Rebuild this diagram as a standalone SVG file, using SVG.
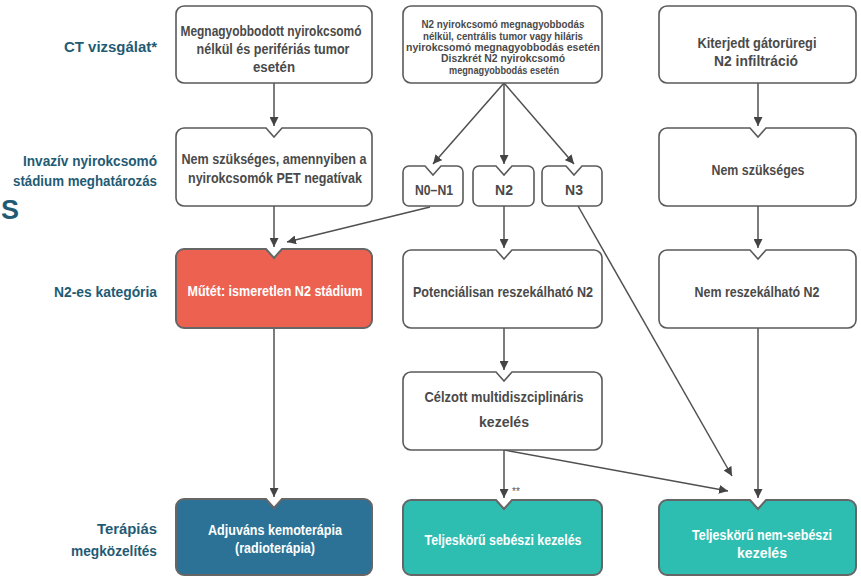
<svg xmlns="http://www.w3.org/2000/svg" width="861" height="577" viewBox="0 0 861 577">
  <defs>
    <marker id="arrow" viewBox="0 0 10 10" refX="10" refY="5" markerWidth="9" markerHeight="9" markerUnits="userSpaceOnUse" orient="auto">
      <path d="M0,0 L10,5 L0,10 Z" fill="#444"/>
    </marker>
  </defs>
  <style>
    .box { fill: #fff; stroke: #5a5a5a; stroke-width: 1.6; }
    .red { fill: #ec6150; stroke: #666; stroke-width: 2; }
    .blue { fill: #2b7296; stroke: #666; stroke-width: 2; }
    .teal { fill: #2ebdb1; stroke: #666; stroke-width: 2; }
    .t { font-family: "Liberation Sans", Arial, sans-serif; font-weight: bold; font-size: 14px; fill: #4a4a4a; text-anchor: middle; }
    .ts { font-size: 11px; }
    .w { fill: #fff; }
    .lbl { font-family: "Liberation Sans", Arial, sans-serif; font-weight: bold; font-size: 14.5px; fill: #1f5b74; text-anchor: end; }
    .conn line { stroke: #505050; stroke-width: 1.5; marker-end: url(#arrow); }
  </style>
  <rect width="861" height="577" fill="#fff"/>

  <!-- row labels -->
  <g id="labels">
    <text class="lbl" x="157" y="52" textLength="93" lengthAdjust="spacingAndGlyphs">CT vizsgálat*</text>
    <text class="lbl" x="157" y="166" textLength="134" lengthAdjust="spacingAndGlyphs">Invazív nyirokcsomó</text>
    <text class="lbl" x="157" y="186" textLength="144" lengthAdjust="spacingAndGlyphs">stádium meghatározás</text>
    <text class="lbl" x="157" y="297" textLength="103" lengthAdjust="spacingAndGlyphs">N2-es kategória</text>
    <text class="lbl" x="157" y="534" textLength="60" lengthAdjust="spacingAndGlyphs">Terápiás</text>
    <text class="lbl" x="157" y="556" textLength="86" lengthAdjust="spacingAndGlyphs">megközelítés</text>
    <text x="1" y="219" font-family="Liberation Sans, Arial, sans-serif" font-weight="bold" font-size="27" fill="#1f5b74">S</text>
  </g>

  <!-- connectors -->
  <g id="connectors" class="conn">
    <line x1="274" y1="83" x2="274" y2="126"/>
    <line x1="274" y1="206" x2="274" y2="247"/>
    <line x1="274" y1="328" x2="274" y2="497"/>
    <line x1="504" y1="83" x2="433" y2="164"/>
    <line x1="504" y1="83" x2="504" y2="164"/>
    <line x1="504" y1="83" x2="574" y2="164"/>
    <line x1="430" y1="207" x2="287" y2="242"/>
    <line x1="504" y1="206" x2="504" y2="248"/>
    <line x1="504" y1="328" x2="504" y2="370"/>
    <line x1="504" y1="450" x2="504" y2="498"/>
    <line x1="504" y1="450" x2="728" y2="491"/>
    <line x1="578" y1="206" x2="732" y2="476"/>
    <line x1="758" y1="83" x2="758" y2="126"/>
    <line x1="758" y1="206" x2="758" y2="248"/>
    <line x1="758" y1="328" x2="758" y2="498"/>
    <text x="512" y="495" font-family="Liberation Sans, Arial, sans-serif" font-size="10" fill="#555">**</text>
  </g>

  <!-- left column -->
  <g id="ct-peripheral">
    <rect class="box" x="176" y="6" width="196" height="77" rx="8"/>
    <text class="t" x="271" y="36" textLength="181" lengthAdjust="spacingAndGlyphs">Megnagyobbodott nyirokcsomó</text>
    <text class="t" x="273" y="54" textLength="153" lengthAdjust="spacingAndGlyphs">nélkül és perifériás tumor</text>
    <text class="t" x="274" y="72" textLength="42" lengthAdjust="spacingAndGlyphs">esetén</text>
  </g>
  <g id="staging-not-needed-pet">
    <path class="box" d="M184,128 H266 L274,137 L282,128 H364 A8,8 0 0 1 372,136 V198 A8,8 0 0 1 364,206 H184 A8,8 0 0 1 176,198 V136 A8,8 0 0 1 184,128 Z"/>
    <text class="t" x="274" y="164" textLength="185" lengthAdjust="spacingAndGlyphs">Nem szükséges, amennyiben a</text>
    <text class="t" x="275" y="183" textLength="174" lengthAdjust="spacingAndGlyphs">nyirokcsomók PET negatívak</text>
  </g>
  <g id="surgery-unknown-n2">
    <path class="red" d="M184,249 H266 L274,258 L282,249 H364 A8,8 0 0 1 372,257 V320 A8,8 0 0 1 364,328 H184 A8,8 0 0 1 176,320 V257 A8,8 0 0 1 184,249 Z"/>
    <text class="t w" x="275" y="296" textLength="175" lengthAdjust="spacingAndGlyphs">Műtét: ismeretlen N2 stádium</text>
  </g>
  <g id="adjuvant-chemo">
    <path class="blue" d="M184,499 H266 L274,508 L282,499 H364 A8,8 0 0 1 372,507 V567 A8,8 0 0 1 364,575 H184 A8,8 0 0 1 176,567 V507 A8,8 0 0 1 184,499 Z"/>
    <text class="t w" x="275" y="535" textLength="134" lengthAdjust="spacingAndGlyphs">Adjuváns kemoterápia</text>
    <text class="t w" x="275" y="553" textLength="80" lengthAdjust="spacingAndGlyphs">(radioterápia)</text>
  </g>

  <!-- middle column -->
  <g id="ct-central">
    <rect class="box" x="403" y="6" width="199" height="77" rx="8"/>
    <text class="t ts" x="503" y="28" textLength="163" lengthAdjust="spacingAndGlyphs">N2 nyirokcsomó megnagyobbodás</text>
    <text class="t ts" x="503" y="40" textLength="160" lengthAdjust="spacingAndGlyphs">nélkül, centrális tumor vagy hiláris</text>
    <text class="t ts" x="503" y="51" textLength="194" lengthAdjust="spacingAndGlyphs">nyirokcsomó megnagyobbodás esetén</text>
    <text class="t ts" x="503" y="62" textLength="124" lengthAdjust="spacingAndGlyphs">Diszkrét N2 nyirokcsomó</text>
    <text class="t ts" x="504" y="74" textLength="110" lengthAdjust="spacingAndGlyphs">megnagyobbodás esetén</text>
  </g>
  <g id="n0-n1">
    <path class="box" d="M409,166 H425 L433,175 L441,166 H457 A6,6 0 0 1 463,172 V200 A6,6 0 0 1 457,206 H409 A6,6 0 0 1 403,200 V172 A6,6 0 0 1 409,166 Z"/>
    <text class="t" x="434" y="195" textLength="38" lengthAdjust="spacingAndGlyphs">N0–N1</text>
  </g>
  <g id="n2">
    <path class="box" d="M479,166 H496 L504,175 L512,166 H528 A6,6 0 0 1 534,172 V200 A6,6 0 0 1 528,206 H479 A6,6 0 0 1 473,200 V172 A6,6 0 0 1 479,166 Z"/>
    <text class="t" x="504" y="195">N2</text>
  </g>
  <g id="n3">
    <path class="box" d="M548,166 H566 L574,175 L582,166 H596 A6,6 0 0 1 602,172 V200 A6,6 0 0 1 596,206 H548 A6,6 0 0 1 542,200 V172 A6,6 0 0 1 548,166 Z"/>
    <text class="t" x="574" y="195">N3</text>
  </g>
  <g id="potentially-resectable">
    <path class="box" d="M411,250 H496 L504,259 L512,250 H594 A8,8 0 0 1 602,258 V320 A8,8 0 0 1 594,328 H411 A8,8 0 0 1 403,320 V258 A8,8 0 0 1 411,250 Z"/>
    <text class="t" x="503" y="297" textLength="180" lengthAdjust="spacingAndGlyphs">Potenciálisan reszekálható N2</text>
  </g>
  <g id="multidisciplinary">
    <path class="box" d="M411,372 H496 L504,381 L512,372 H594 A8,8 0 0 1 602,380 V442 A8,8 0 0 1 594,450 H411 A8,8 0 0 1 403,442 V380 A8,8 0 0 1 411,372 Z"/>
    <text class="t" x="504" y="402" textLength="159" lengthAdjust="spacingAndGlyphs">Célzott multidiszciplináris</text>
    <text class="t" x="504" y="427" textLength="50" lengthAdjust="spacingAndGlyphs">kezelés</text>
  </g>
  <g id="complete-surgical">
    <path class="teal" d="M411,500 H496 L504,509 L512,500 H594 A8,8 0 0 1 602,508 V567 A8,8 0 0 1 594,575 H411 A8,8 0 0 1 403,567 V508 A8,8 0 0 1 411,500 Z"/>
    <text class="t w" x="503" y="545" textLength="157" lengthAdjust="spacingAndGlyphs">Teljeskörű sebészi kezelés</text>
  </g>

  <!-- right column -->
  <g id="ct-mediastinal">
    <rect class="box" x="659" y="6" width="197" height="77" rx="8"/>
    <text class="t" x="757" y="48" textLength="119" lengthAdjust="spacingAndGlyphs">Kiterjedt gátorüregi</text>
    <text class="t" x="756" y="66" textLength="84" lengthAdjust="spacingAndGlyphs">N2 infiltráció</text>
  </g>
  <g id="staging-not-needed">
    <path class="box" d="M667,128 H750 L758,137 L766,128 H848 A8,8 0 0 1 856,136 V198 A8,8 0 0 1 848,206 H667 A8,8 0 0 1 659,198 V136 A8,8 0 0 1 667,128 Z"/>
    <text class="t" x="758" y="175" textLength="93" lengthAdjust="spacingAndGlyphs">Nem szükséges</text>
  </g>
  <g id="non-resectable">
    <path class="box" d="M667,250 H750 L758,259 L766,250 H848 A8,8 0 0 1 856,258 V320 A8,8 0 0 1 848,328 H667 A8,8 0 0 1 659,320 V258 A8,8 0 0 1 667,250 Z"/>
    <text class="t" x="757" y="297" textLength="125" lengthAdjust="spacingAndGlyphs">Nem reszekálható N2</text>
  </g>
  <g id="complete-non-surgical">
    <path class="teal" d="M667,500 H750 L758,509 L766,500 H848 A8,8 0 0 1 856,508 V567 A8,8 0 0 1 848,575 H667 A8,8 0 0 1 659,567 V508 A8,8 0 0 1 667,500 Z"/>
    <text class="t w" x="762" y="540" textLength="140" lengthAdjust="spacingAndGlyphs">Teljeskörű nem-sebészi</text>
    <text class="t w" x="762" y="558" textLength="50" lengthAdjust="spacingAndGlyphs">kezelés</text>
  </g>
</svg>
